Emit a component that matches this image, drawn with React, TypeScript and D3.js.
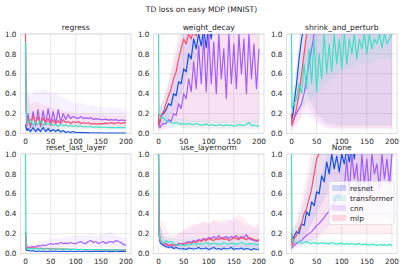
import React from "react";
import * as d3 from "d3";

// Series labels, colours and axis ticks.
const models = ["resnet", "transformer", "cnn", "mlp"];
const colors = ["#1450e6", "#3ee2c6", "#a35cff", "#ff4d6b"];
const panelTitles = ["regress", "weight_decay", "shrink_and_perturb", "reset_last_layer", "use_layernorm", "None"];
const xTicks = [0, 50, 100, 150, 200];
const yTicks = [0, 0.2, 0.4, 0.6, 0.8, 1.0];

// x positions of the mean curves and of the shaded bands
const steps = [0, 1, 3, ...d3.range(5, 201, 5)];
const bandSteps = [0, 2, ...d3.range(10, 201, 10)];

// ---- regress ----
const regressResnet = [0.09, 0.06, 0.03,
  0.05, 0.02, 0.06, 0.02, 0.05, 0.02, 0.06, 0.02, 0.05, 0.02,
  0.04, 0.02, 0.04, 0.015, 0.03, 0.01, 0.02, 0.01, 0.02, 0.01,
  0.01, 0.008, 0.01, 0.006, 0.008, 0.005, 0.007, 0.005, 0.006, 0.004,
  0.005, 0.004, 0.005, 0.004, 0.005, 0.004, 0.004, 0.004, 0.004, 0.004];
const regressTransformer = [0.92, 0.3, 0.12,
  0.1, 0.14, 0.08, 0.12, 0.09, 0.13, 0.08, 0.11, 0.09, 0.1,
  0.08, 0.09, 0.07, 0.09, 0.08, 0.085, 0.075, 0.08, 0.07, 0.08,
  0.07, 0.075, 0.065, 0.07, 0.065, 0.07, 0.06, 0.068, 0.062, 0.065,
  0.06, 0.065, 0.058, 0.062, 0.06, 0.058, 0.062, 0.058, 0.06, 0.058];
const regressCnn = [0.9, 0.25, 0.08,
  0.2, 0.06, 0.22, 0.08, 0.24, 0.07, 0.23, 0.09, 0.25, 0.1,
  0.22, 0.1, 0.24, 0.12, 0.2, 0.14, 0.19, 0.15, 0.17, 0.16,
  0.15, 0.17, 0.15, 0.16, 0.15, 0.16, 0.14, 0.15, 0.145, 0.14,
  0.14, 0.145, 0.135, 0.14, 0.135, 0.14, 0.13, 0.135, 0.135, 0.13];
const regressMlp = [1.0, 0.3, 0.1,
  0.15, 0.08, 0.18, 0.1, 0.17, 0.08, 0.16, 0.1, 0.15, 0.08,
  0.14, 0.1, 0.13, 0.1, 0.14, 0.11, 0.12, 0.1, 0.12, 0.11,
  0.12, 0.1, 0.11, 0.1, 0.11, 0.095, 0.1, 0.1, 0.095, 0.1,
  0.1, 0.105, 0.1, 0.11, 0.1, 0.105, 0.11, 0.1, 0.11, 0.105];
const regressResnetLo = [0.04, 0.02, 0, 0, 0, 0, 0, 0, 0, 0, 0, 0, 0, 0, 0, 0, 0, 0, 0, 0, 0, 0];
const regressResnetHi = [0.15, 0.1, 0.08, 0.09, 0.08, 0.07, 0.06, 0.05, 0.04, 0.03, 0.025, 0.02, 0.02, 0.015, 0.015, 0.015, 0.012, 0.012, 0.012, 0.01, 0.01, 0.01];
const regressTransformerLo = [0.8, 0.1, 0.04, 0.04, 0.04, 0.04, 0.04, 0.04, 0.04, 0.04, 0.04, 0.04, 0.04, 0.04, 0.04, 0.04, 0.03, 0.03, 0.03, 0.03, 0.03, 0.03];
const regressTransformerHi = [1.0, 0.5, 0.2, 0.18, 0.17, 0.16, 0.15, 0.14, 0.13, 0.12, 0.12, 0.11, 0.11, 0.1, 0.1, 0.1, 0.1, 0.1, 0.09, 0.09, 0.09, 0.09];
const regressCnnLo = [0.7, 0.03, 0.02, 0.03, 0.04, 0.05, 0.05, 0.06, 0.07, 0.07, 0.08, 0.08, 0.08, 0.08, 0.08, 0.08, 0.08, 0.08, 0.08, 0.07, 0.07, 0.07];
const regressCnnHi = [1.0, 0.4, 0.38, 0.44, 0.42, 0.45, 0.4, 0.42, 0.36, 0.35, 0.32, 0.3, 0.31, 0.28, 0.29, 0.27, 0.27, 0.26, 0.27, 0.25, 0.26, 0.25];
const regressMlpLo = [0.9, 0.05, 0.02, 0.02, 0.03, 0.03, 0.04, 0.04, 0.04, 0.05, 0.05, 0.05, 0.05, 0.05, 0.05, 0.05, 0.05, 0.05, 0.05, 0.05, 0.05, 0.05];
const regressMlpHi = [1.0, 0.45, 0.3, 0.32, 0.3, 0.28, 0.27, 0.25, 0.24, 0.22, 0.22, 0.2, 0.2, 0.2, 0.19, 0.19, 0.19, 0.19, 0.18, 0.18, 0.18, 0.18];

// ---- weight_decay ----
const decayResnet = [0.15, 0.1, 0.12,
  0.18, 0.2, 0.24, 0.3, 0.28, 0.4, 0.38, 0.52, 0.5, 0.65,
  0.62, 0.8, 0.75, 0.95, 0.85, 1.0, 0.88, 1.05, 0.86, 1.1,
  0.95, 1.2, 1.1, 1.3, 1.25, 1.4, 1.3, 1.5, 1.4, 1.5,
  1.5, 1.6, 1.5, 1.6, 1.55, 1.6, 1.6, 1.6, 1.6, 1.6];
const decayTransformer = [1.0, 0.2, 0.17,
  0.15, 0.16, 0.13, 0.12, 0.11, 0.1, 0.11, 0.1, 0.095, 0.1,
  0.09, 0.1, 0.095, 0.09, 0.1, 0.09, 0.085, 0.09, 0.095, 0.08,
  0.09, 0.085, 0.08, 0.09, 0.085, 0.075, 0.09, 0.08, 0.085, 0.075,
  0.08, 0.09, 0.085, 0.08, 0.09, 0.11, 0.08, 0.085, 0.075, 0.08];
const decayCnn = [0.1, 0.07, 0.06,
  0.08, 0.1, 0.1, 0.14, 0.12, 0.2, 0.18, 0.3, 0.25, 0.4,
  0.35, 0.55, 0.42, 0.72, 0.45, 0.88, 0.5, 0.98, 0.42, 1.0,
  0.5, 0.92, 0.4, 1.0, 0.55, 0.85, 0.35, 1.0, 0.5, 0.9,
  0.45, 1.0, 0.6, 0.95, 0.4, 1.0, 0.55, 0.9, 0.45, 0.85];
const decayMlp = [0.2, 0.08, 0.12,
  0.18, 0.22, 0.3, 0.38, 0.45, 0.55, 0.62, 0.75, 0.85, 0.95,
  0.9, 1.0, 0.95, 1.05, 0.98, 1.1, 1.2, 1.3, 1.4, 1.5,
  1.5, 1.6, 1.6, 1.6, 1.6, 1.6, 1.6, 1.6, 1.6, 1.6,
  1.6, 1.6, 1.6, 1.6, 1.6, 1.6, 1.6, 1.6, 1.6, 1.6];
const decayResnetLo = [0.05, 0.05, 0.1, 0.15, 0.2, 0.3, 0.45, 0.6, 0.7, 0.8, 0.9, 1.0, 1.0, 1.0, 1.0, 1.0, 1.0, 1.0, 1.0, 1.0, 1.0, 1.0];
const decayResnetHi = [0.3, 0.25, 0.35, 0.5, 0.7, 0.9, 1.1, 1.3, 1.5, 1.6, 1.6, 1.6, 1.6, 1.6, 1.6, 1.6, 1.6, 1.6, 1.6, 1.6, 1.6, 1.6];
const decayTransformerLo = [0.9, 0.1, 0.08, 0.06, 0.05, 0.05, 0.05, 0.05, 0.05, 0.05, 0.05, 0.05, 0.05, 0.05, 0.05, 0.05, 0.05, 0.05, 0.05, 0.05, 0.05, 0.05];
const decayTransformerHi = [1.0, 0.3, 0.22, 0.18, 0.16, 0.15, 0.15, 0.14, 0.14, 0.14, 0.14, 0.14, 0.13, 0.13, 0.13, 0.13, 0.13, 0.13, 0.13, 0.13, 0.14, 0.12];
const decayCnnLo = [0.05, 0.03, 0.04, 0.05, 0.06, 0.08, 0.1, 0.1, 0.12, 0.1, 0.12, 0.1, 0.12, 0.1, 0.1, 0.12, 0.1, 0.1, 0.12, 0.1, 0.1, 0.1];
const decayCnnHi = [0.2, 0.15, 0.2, 0.3, 0.5, 0.7, 0.9, 1.1, 1.2, 1.2, 1.2, 1.2, 1.2, 1.2, 1.2, 1.2, 1.2, 1.2, 1.2, 1.2, 1.2, 1.2];
const decayMlpLo = [0.05, 0.02, 0.05, 0.1, 0.1, 0.08, 0.05, 0.05, 0.06, 0.05, 0.05, 0.04, 0.05, 0.05, 0.04, 0.05, 0.05, 0.04, 0.05, 0.05, 0.04, 0.05];
const decayMlpHi = [0.4, 0.3, 0.35, 0.55, 0.8, 1.0, 1.2, 1.5, 2.0, 2.0, 2.0, 2.0, 2.0, 2.0, 2.0, 2.0, 2.0, 2.0, 2.0, 2.0, 2.0, 2.0];

// ---- shrink_and_perturb ----
const shrinkResnet = [0.2, 0.15, 0.2,
  0.3, 0.5, 0.75, 0.95, 1.1, 1.3, 1.5, 1.5, 1.5, 1.5,
  1.5, 1.5, 1.5, 1.5, 1.5, 1.5, 1.5, 1.5, 1.5, 1.5,
  1.5, 1.5, 1.5, 1.5, 1.5, 1.5, 1.5, 1.5, 1.5, 1.5,
  1.5, 1.5, 1.5, 1.5, 1.5, 1.5, 1.5, 1.5, 1.5, 1.5];
const shrinkTransformer = [1.0, 0.25, 0.28,
  0.3, 0.35, 0.5, 0.4, 0.7, 0.45, 0.85, 0.5, 0.95, 0.42,
  0.8, 0.55, 1.0, 0.6, 0.9, 0.62, 1.0, 0.7, 0.95, 0.65,
  1.0, 0.7, 0.95, 0.8, 1.0, 0.75, 0.95, 0.85, 1.0, 0.8,
  1.0, 0.85, 0.95, 0.9, 1.0, 0.86, 1.0, 0.9, 0.95, 1.0];
const shrinkCnn = [0.15, 0.1, 0.12,
  0.15, 0.2, 0.25, 0.3, 0.4, 0.55, 0.7, 0.85, 1.0, 1.1,
  1.3, 1.5, 1.5, 1.5, 1.5, 1.5, 1.5, 1.5, 1.5, 1.5,
  1.5, 1.5, 1.5, 1.5, 1.5, 1.5, 1.5, 1.5, 1.5, 1.5,
  1.5, 1.5, 1.5, 1.5, 1.5, 1.5, 1.5, 1.5, 1.5, 1.5];
const shrinkMlp = [0.2, 0.08, 0.12,
  0.15, 0.25, 0.4, 0.6, 0.8, 1.0, 1.2, 1.4, 1.5, 1.5,
  1.5, 1.5, 1.5, 1.5, 1.5, 1.5, 1.5, 1.5, 1.5, 1.5,
  1.5, 1.5, 1.5, 1.5, 1.5, 1.5, 1.5, 1.5, 1.5, 1.5,
  1.5, 1.5, 1.5, 1.5, 1.5, 1.5, 1.5, 1.5, 1.5, 1.5];
const shrinkResnetLo = [0.1, 0.08, 0.3, 0.5, 0.4, 0.3, 0.2, 0.15, 0.1, 0.1, 0.08, 0.08, 0.08, 0.08, 0.08, 0.08, 0.08, 0.08, 0.08, 0.08, 0.08, 0.08];
const shrinkResnetHi = [0.3, 0.3, 0.7, 1.2, 1.5, 1.5, 1.5, 1.5, 1.5, 1.5, 1.5, 1.5, 1.5, 1.5, 1.5, 1.5, 1.5, 1.5, 1.5, 1.5, 1.5, 1.5];
const shrinkTransformerLo = [0.9, 0.15, 0.2, 0.25, 0.3, 0.35, 0.4, 0.45, 0.5, 0.55, 0.6, 0.6, 0.65, 0.65, 0.7, 0.7, 0.7, 0.7, 0.75, 0.75, 0.75, 0.75];
const shrinkTransformerHi = [1.0, 0.4, 0.5, 0.8, 1.0, 1.0, 1.0, 1.0, 1.0, 1.0, 1.0, 1.0, 1.0, 1.0, 1.0, 1.0, 1.0, 1.0, 1.0, 1.0, 1.0, 1.0];
const shrinkCnnLo = [0.05, 0.05, 0.1, 0.15, 0.2, 0.15, 0.1, 0.08, 0.05, 0.05, 0.05, 0.05, 0.05, 0.05, 0.05, 0.05, 0.05, 0.05, 0.05, 0.05, 0.05, 0.05];
const shrinkCnnHi = [0.25, 0.2, 0.35, 0.6, 1.0, 1.3, 1.5, 1.5, 1.5, 1.5, 1.5, 1.5, 1.5, 1.5, 1.5, 1.5, 1.5, 1.5, 1.5, 1.5, 1.5, 1.5];
const shrinkMlpLo = [0.05, 0.03, 0.1, 0.2, 0.3, 0.2, 0.15, 0.1, 0.08, 0.05, 0.05, 0.05, 0.05, 0.05, 0.05, 0.05, 0.05, 0.05, 0.05, 0.05, 0.05, 0.05];
const shrinkMlpHi = [0.3, 0.25, 0.5, 0.9, 1.3, 1.5, 1.5, 1.5, 1.5, 1.5, 1.5, 1.5, 1.5, 1.5, 1.5, 1.5, 1.5, 1.5, 1.5, 1.5, 1.5, 1.5];

// ---- reset_last_layer ----
const resetResnet = [0.22, 0.04, 0.03,
  0.03, 0.025, 0.03, 0.02, 0.025, 0.02, 0.025, 0.02, 0.02, 0.025,
  0.02, 0.025, 0.02, 0.02, 0.025, 0.02, 0.02, 0.025, 0.02, 0.02,
  0.025, 0.02, 0.02, 0.025, 0.02, 0.02, 0.02, 0.025, 0.02, 0.02,
  0.02, 0.025, 0.02, 0.02, 0.02, 0.025, 0.02, 0.02, 0.02, 0.02];
const resetTransformer = [1.0, 0.06, 0.05,
  0.05, 0.05, 0.048, 0.05, 0.047, 0.048, 0.046, 0.047, 0.045, 0.046,
  0.045, 0.044, 0.045, 0.043, 0.044, 0.042, 0.043, 0.042, 0.041, 0.042,
  0.04, 0.041, 0.04, 0.04, 0.039, 0.04, 0.038, 0.039, 0.038, 0.038,
  0.037, 0.038, 0.037, 0.036, 0.037, 0.036, 0.036, 0.035, 0.036, 0.035];
const resetCnn = [0.2, 0.07, 0.06,
  0.06, 0.065, 0.07, 0.065, 0.08, 0.075, 0.085, 0.08, 0.09, 0.1,
  0.09, 0.1, 0.095, 0.11, 0.1, 0.105, 0.1, 0.11, 0.1, 0.1,
  0.11, 0.12, 0.105, 0.1, 0.12, 0.13, 0.11, 0.12, 0.1, 0.11,
  0.12, 0.1, 0.115, 0.12, 0.11, 0.13, 0.12, 0.11, 0.09, 0.085];
const resetMlp = [0.2, 0.07, 0.065,
  0.06, 0.058, 0.056, 0.055, 0.053, 0.052, 0.05, 0.05, 0.048, 0.047,
  0.046, 0.045, 0.045, 0.044, 0.043, 0.043, 0.042, 0.042, 0.041, 0.04,
  0.04, 0.04, 0.039, 0.039, 0.038, 0.038, 0.038, 0.037, 0.037, 0.037,
  0.036, 0.036, 0.036, 0.035, 0.035, 0.035, 0.035, 0.034, 0.034, 0.034];
const resetResnetLo = [0.15, 0.02, 0.015, 0.01, 0.01, 0.01, 0.01, 0.01, 0.01, 0.01, 0.01, 0.01, 0.01, 0.01, 0.01, 0.01, 0.01, 0.01, 0.01, 0.01, 0.01, 0.01];
const resetResnetHi = [0.3, 0.06, 0.04, 0.04, 0.035, 0.035, 0.035, 0.035, 0.035, 0.035, 0.035, 0.03, 0.03, 0.03, 0.03, 0.03, 0.03, 0.03, 0.03, 0.03, 0.03, 0.03];
const resetTransformerLo = [0.9, 0.04, 0.035, 0.035, 0.035, 0.035, 0.03, 0.03, 0.03, 0.03, 0.03, 0.03, 0.03, 0.03, 0.03, 0.03, 0.03, 0.03, 0.03, 0.03, 0.03, 0.03];
const resetTransformerHi = [1.0, 0.08, 0.06, 0.06, 0.055, 0.055, 0.055, 0.05, 0.05, 0.05, 0.05, 0.05, 0.05, 0.05, 0.05, 0.045, 0.045, 0.045, 0.045, 0.045, 0.045, 0.045];
const resetCnnLo = [0.15, 0.04, 0.04, 0.04, 0.045, 0.05, 0.05, 0.055, 0.06, 0.06, 0.06, 0.06, 0.06, 0.06, 0.06, 0.06, 0.06, 0.06, 0.06, 0.06, 0.055, 0.05];
const resetCnnHi = [0.25, 0.1, 0.09, 0.1, 0.12, 0.13, 0.15, 0.16, 0.15, 0.16, 0.17, 0.18, 0.17, 0.18, 0.2, 0.17, 0.19, 0.2, 0.22, 0.18, 0.17, 0.14];
const resetMlpLo = [0.15, 0.05, 0.045, 0.045, 0.04, 0.04, 0.035, 0.035, 0.03, 0.03, 0.03, 0.03, 0.03, 0.03, 0.03, 0.03, 0.03, 0.03, 0.03, 0.03, 0.03, 0.03];
const resetMlpHi = [0.25, 0.09, 0.08, 0.075, 0.07, 0.065, 0.06, 0.06, 0.055, 0.055, 0.05, 0.05, 0.05, 0.05, 0.05, 0.05, 0.05, 0.05, 0.05, 0.05, 0.05, 0.05];

// ---- use_layernorm ----
const lnResnet = [1.0, 0.2, 0.12,
  0.1, 0.08, 0.07, 0.06, 0.07, 0.05, 0.06, 0.05, 0.045, 0.05,
  0.04, 0.055, 0.05, 0.045, 0.05, 0.06, 0.045, 0.05, 0.055, 0.04,
  0.05, 0.06, 0.045, 0.05, 0.04, 0.055, 0.045, 0.05, 0.06, 0.04,
  0.05, 0.045, 0.055, 0.04, 0.05, 0.045, 0.035, 0.05, 0.04, 0.045];
const lnTransformer = [1.0, 0.2, 0.15,
  0.12, 0.1, 0.13, 0.11, 0.12, 0.1, 0.09, 0.085, 0.09, 0.08,
  0.085, 0.09, 0.095, 0.1, 0.09, 0.1, 0.095, 0.1, 0.11, 0.095,
  0.1, 0.105, 0.095, 0.1, 0.09, 0.11, 0.1, 0.095, 0.105, 0.1,
  0.095, 0.1, 0.11, 0.1, 0.09, 0.1, 0.095, 0.1, 0.09, 0.095];
const lnCnn = [1.0, 0.2, 0.12,
  0.11, 0.09, 0.1, 0.08, 0.09, 0.08, 0.085, 0.1, 0.09, 0.1,
  0.11, 0.12, 0.11, 0.13, 0.12, 0.14, 0.13, 0.15, 0.14, 0.16,
  0.15, 0.17, 0.15, 0.18, 0.15, 0.16, 0.17, 0.15, 0.17, 0.16,
  0.18, 0.15, 0.17, 0.16, 0.19, 0.15, 0.14, 0.13, 0.12, 0.13];
const lnMlp = [1.0, 0.25, 0.15,
  0.12, 0.1, 0.09, 0.08, 0.09, 0.085, 0.08, 0.09, 0.1, 0.09,
  0.1, 0.11, 0.1, 0.12, 0.11, 0.13, 0.12, 0.14, 0.13, 0.15,
  0.14, 0.13, 0.15, 0.14, 0.16, 0.14, 0.15, 0.13, 0.14, 0.16,
  0.15, 0.14, 0.16, 0.15, 0.14, 0.16, 0.15, 0.14, 0.13, 0.14];
const lnResnetLo = [0.95, 0.1, 0.06, 0.04, 0.03, 0.02, 0.02, 0.02, 0.02, 0.02, 0.02, 0.02, 0.02, 0.02, 0.02, 0.02, 0.02, 0.02, 0.02, 0.02, 0.02, 0.02];
const lnResnetHi = [1.0, 0.3, 0.15, 0.1, 0.09, 0.09, 0.09, 0.09, 0.09, 0.09, 0.09, 0.09, 0.09, 0.09, 0.09, 0.09, 0.09, 0.09, 0.09, 0.09, 0.09, 0.09];
const lnTransformerLo = [0.95, 0.1, 0.07, 0.06, 0.05, 0.05, 0.05, 0.05, 0.05, 0.05, 0.05, 0.05, 0.05, 0.05, 0.05, 0.05, 0.05, 0.05, 0.05, 0.05, 0.05, 0.05];
const lnTransformerHi = [1.0, 0.3, 0.18, 0.17, 0.15, 0.14, 0.14, 0.15, 0.15, 0.16, 0.16, 0.16, 0.16, 0.16, 0.16, 0.16, 0.16, 0.16, 0.16, 0.16, 0.16, 0.16];
const lnCnnLo = [0.95, 0.1, 0.06, 0.05, 0.05, 0.05, 0.06, 0.06, 0.06, 0.06, 0.06, 0.06, 0.06, 0.06, 0.06, 0.06, 0.06, 0.06, 0.06, 0.06, 0.06, 0.06];
const lnCnnHi = [1.0, 0.3, 0.18, 0.16, 0.15, 0.2, 0.22, 0.25, 0.28, 0.3, 0.32, 0.3, 0.33, 0.3, 0.35, 0.32, 0.38, 0.33, 0.3, 0.28, 0.26, 0.25];
const lnMlpLo = [0.95, 0.1, 0.06, 0.05, 0.05, 0.05, 0.05, 0.06, 0.06, 0.06, 0.06, 0.06, 0.06, 0.06, 0.06, 0.06, 0.06, 0.06, 0.06, 0.06, 0.06, 0.06];
const lnMlpHi = [1.0, 0.35, 0.3, 0.2, 0.18, 0.2, 0.25, 0.28, 0.3, 0.3, 0.32, 0.3, 0.35, 0.33, 0.3, 0.35, 0.32, 0.4, 0.35, 0.3, 0.28, 0.3];

// ---- None ----
const noneResnet = [0.2, 0.14, 0.15,
  0.17, 0.22, 0.2, 0.3, 0.28, 0.42, 0.38, 0.52, 0.48, 0.62,
  0.6, 0.78, 0.72, 0.92, 0.8, 1.0, 0.85, 0.98, 0.82, 1.0,
  0.9, 1.05, 0.92, 1.1, 0.95, 1.2, 1.3, 1.4, 1.5, 1.5,
  1.5, 1.5, 1.5, 1.5, 1.5, 1.5, 1.5, 1.5, 1.5, 1.5];
const noneTransformer = [1.0, 0.15, 0.12,
  0.12, 0.11, 0.12, 0.1, 0.11, 0.12, 0.105, 0.1, 0.11, 0.105,
  0.1, 0.11, 0.1, 0.105, 0.095, 0.11, 0.1, 0.095, 0.1, 0.105,
  0.09, 0.1, 0.095, 0.1, 0.09, 0.095, 0.1, 0.085, 0.095, 0.09,
  0.085, 0.095, 0.09, 0.08, 0.09, 0.085, 0.09, 0.08, 0.09, 0.085];
const noneCnn = [0.05, 0.06, 0.07,
  0.08, 0.1, 0.12, 0.13, 0.16, 0.18, 0.2, 0.22, 0.25, 0.28,
  0.3, 0.33, 0.36, 0.4, 0.42, 0.48, 0.5, 0.6, 0.55, 0.7,
  0.65, 0.95, 0.6, 1.0, 0.75, 0.9, 0.55, 1.0, 0.7, 0.95,
  0.6, 1.0, 0.8, 0.9, 0.65, 1.0, 0.75, 0.95, 0.7, 1.0];
const noneMlp = [0.2, 0.08, 0.1,
  0.15, 0.18, 0.25, 0.3, 0.4, 0.45, 0.55, 0.65, 0.8, 0.95,
  1.0, 1.1, 1.05, 1.2, 1.3, 1.4, 1.5, 1.5, 1.5, 1.5,
  1.5, 1.5, 1.5, 1.5, 1.5, 1.5, 1.5, 1.5, 1.5, 1.5,
  1.5, 1.5, 1.5, 1.5, 1.5, 1.5, 1.5, 1.5, 1.5, 1.5];
const noneResnetLo = [0.1, 0.08, 0.1, 0.15, 0.2, 0.3, 0.4, 0.5, 0.6, 0.7, 0.7, 0.7, 0.7, 0.7, 0.7, 0.7, 0.7, 0.7, 0.7, 0.7, 0.7, 0.7];
const noneResnetHi = [0.3, 0.25, 0.3, 0.45, 0.65, 0.9, 1.1, 1.3, 1.5, 1.5, 1.5, 1.5, 1.5, 1.5, 1.5, 1.5, 1.5, 1.5, 1.5, 1.5, 1.5, 1.5];
const noneTransformerLo = [0.9, 0.08, 0.07, 0.07, 0.07, 0.07, 0.07, 0.07, 0.07, 0.07, 0.06, 0.06, 0.06, 0.06, 0.06, 0.06, 0.06, 0.06, 0.06, 0.06, 0.06, 0.06];
const noneTransformerHi = [1.0, 0.2, 0.16, 0.15, 0.15, 0.15, 0.15, 0.14, 0.14, 0.14, 0.14, 0.14, 0.13, 0.13, 0.13, 0.13, 0.13, 0.13, 0.13, 0.13, 0.13, 0.13];
const noneCnnLo = [0.02, 0.03, 0.05, 0.07, 0.1, 0.12, 0.15, 0.2, 0.25, 0.3, 0.35, 0.35, 0.35, 0.35, 0.35, 0.35, 0.35, 0.35, 0.35, 0.35, 0.35, 0.35];
const noneCnnHi = [0.1, 0.1, 0.15, 0.25, 0.35, 0.5, 0.6, 0.8, 1.0, 1.2, 1.2, 1.2, 1.2, 1.2, 1.2, 1.2, 1.2, 1.2, 1.2, 1.2, 1.2, 1.2];
const noneMlpLo = [0.1, 0.05, 0.08, 0.1, 0.12, 0.12, 0.15, 0.2, 0.2, 0.2, 0.2, 0.2, 0.2, 0.2, 0.2, 0.2, 0.2, 0.2, 0.2, 0.2, 0.2, 0.2];
const noneMlpHi = [0.3, 0.2, 0.35, 0.55, 0.8, 1.1, 1.4, 1.5, 1.5, 1.5, 1.5, 1.5, 1.5, 1.5, 1.5, 1.5, 1.5, 1.5, 1.5, 1.5, 1.5, 1.5];

const panels = [
  { lines: [regressResnet, regressTransformer, regressCnn, regressMlp],
    lo: [regressResnetLo, regressTransformerLo, regressCnnLo, regressMlpLo],
    hi: [regressResnetHi, regressTransformerHi, regressCnnHi, regressMlpHi] },
  { lines: [decayResnet, decayTransformer, decayCnn, decayMlp],
    lo: [decayResnetLo, decayTransformerLo, decayCnnLo, decayMlpLo],
    hi: [decayResnetHi, decayTransformerHi, decayCnnHi, decayMlpHi] },
  { lines: [shrinkResnet, shrinkTransformer, shrinkCnn, shrinkMlp],
    lo: [shrinkResnetLo, shrinkTransformerLo, shrinkCnnLo, shrinkMlpLo],
    hi: [shrinkResnetHi, shrinkTransformerHi, shrinkCnnHi, shrinkMlpHi] },
  { lines: [resetResnet, resetTransformer, resetCnn, resetMlp],
    lo: [resetResnetLo, resetTransformerLo, resetCnnLo, resetMlpLo],
    hi: [resetResnetHi, resetTransformerHi, resetCnnHi, resetMlpHi] },
  { lines: [lnResnet, lnTransformer, lnCnn, lnMlp],
    lo: [lnResnetLo, lnTransformerLo, lnCnnLo, lnMlpLo],
    hi: [lnResnetHi, lnTransformerHi, lnCnnHi, lnMlpHi] },
  { lines: [noneResnet, noneTransformer, noneCnn, noneMlp],
    lo: [noneResnetLo, noneTransformerLo, noneCnnLo, noneMlpLo],
    hi: [noneResnetHi, noneTransformerHi, noneCnnHi, noneMlpHi] },
];

const W = 403;
const H = 270;
const colLeft = [20.5, 153.5, 286.5];
const rowTop = [34, 154];
const pw = 110.5;
const ph = 99.5;
const font = "DejaVu Sans, sans-serif";
const textColor = "#262626";
const gridColor = "#e2e2e2";
// draw order: transformer last so it sits on top
const drawOrder = [0, 2, 3, 1];

const Panel = ({ idx }: { idx: number }) => {
  const left = colLeft[idx % 3];
  const top = rowTop[Math.floor(idx / 3)];
  const x = d3.scaleLinear().domain([-10, 210]).range([left, left + pw]);
  const y = d3.scaleLinear().domain([0, 1]).range([top + ph, top]);
  const p = panels[idx];
  const clipId = `clip${idx}`;

  const line = d3.line<number>()
    .x((_, i) => x(steps[i]))
    .y(d => y(d));

  const area = (lo: number[], hi: number[]) =>
    d3.area<number>()
      .x((_, i) => x(bandSteps[i]))
      .y0((_, i) => y(lo[i]))
      .y1((_, i) => y(hi[i]))(bandSteps);

  return (
    <g>
      <defs>
        <clipPath id={clipId}>
          <rect x={left} y={top} width={pw} height={ph} />
        </clipPath>
      </defs>
      {/* grid */}
      {xTicks.map(t => (
        <line key={`gx${t}`} x1={x(t)} x2={x(t)} y1={top} y2={top + ph} stroke={gridColor} strokeWidth={0.8} />
      ))}
      {yTicks.map(t => (
        <line key={`gy${t}`} x1={left} x2={left + pw} y1={y(t)} y2={y(t)} stroke={gridColor} strokeWidth={0.8} />
      ))}
      <rect x={left} y={top} width={pw} height={ph} fill="none" stroke="#d8d8d8" strokeWidth={0.8} />

      <g clipPath={`url(#${clipId})`}>
        {drawOrder.map(k => (
          <path key={`b${k}`} d={area(p.lo[k], p.hi[k]) || ""} fill={colors[k]} fillOpacity={0.09} stroke="none" />
        ))}
        {drawOrder.map(k => (
          <path key={`l${k}`} d={line(p.lines[k]) || ""} fill="none" stroke={colors[k]}
            strokeWidth={1.2} strokeLinejoin="round" />
        ))}
      </g>

      {/* tick labels */}
      {xTicks.map(t => (
        <text key={`tx${t}`} x={x(t)} y={top + ph + 10.5} textAnchor="middle" fontSize={7.3}
          fontFamily={font} fill={textColor}>{t}</text>
      ))}
      {yTicks.map(t => (
        <text key={`ty${t}`} x={left - 4} y={y(t) + 2.6} textAnchor="end" fontSize={7.3}
          fontFamily={font} fill={textColor}>{t.toFixed(1)}</text>
      ))}
      <text x={left + pw / 2} y={top - 4} textAnchor="middle" fontSize={7.6}
        fontFamily={font} fill={textColor}>{panelTitles[idx]}</text>
    </g>
  );
};

const Legend = () => {
  const lx = 329;
  const ly = 181.5;
  return (
    <g>
      <rect x={lx} y={ly} width={65} height={43} rx={2} fill="#ffffff" fillOpacity={0.8}
        stroke="#dddddd" strokeWidth={0.8} />
      {models.map((m, i) => (
        <g key={m}>
          <rect x={lx + 3} y={ly + 3.5 + i * 10} width={14} height={6} fill={colors[i]} fillOpacity={0.2} />
          <text x={lx + 21} y={ly + 9.5 + i * 10} fontSize={7.3} fontFamily={font} fill={textColor}>{m}</text>
        </g>
      ))}
    </g>
  );
};

export default function App() {
  return (
    <svg width={W} height={H} style={{ position: "fixed", left: 0, top: 0, background: "#fff" }}>
      <rect x={0} y={0} width={W} height={H} fill="#fff" />
      <text x={W / 2} y={12} textAnchor="middle" fontSize={7.6} fontFamily={font} fill={textColor}>
        TD loss on easy MDP (MNIST)
      </text>
      {panels.map((_, i) => <Panel key={i} idx={i} />)}
      <Legend />
    </svg>
  );
}
